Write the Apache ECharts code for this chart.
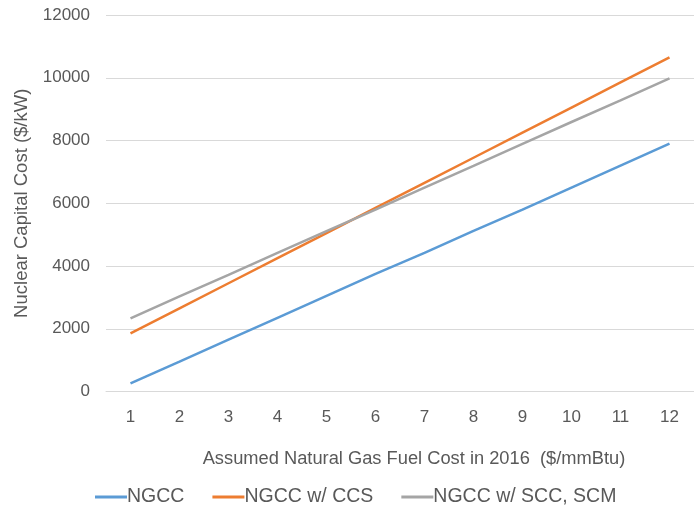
<!DOCTYPE html>
<html><head><meta charset="utf-8">
<script src="https://cdn.jsdelivr.net/npm/echarts@6/dist/echarts.min.js"></script>
<style>html,body{margin:0;padding:0;background:#fff}#c{width:694px;height:510px}</style>
</head><body><div id="c"></div>
<script>
const categories = ['1','2','3','4','5','6','7','8','9','10','11','12'];
const ngcc = [260, 950, 1650, 2350, 3050, 3750, 4420, 5120, 5800, 6500, 7200, 7900];
const ngccCCS = [1850, 2650, 3450, 4250, 5050, 5850, 6650, 7450, 8250, 9050, 9850, 10650];
const ngccSCC = [2330, 3030, 3720, 4420, 5110, 5800, 6500, 7190, 7890, 8590, 9280, 9980];
const seriesNames = ['NGCC', 'NGCC w/ CCS', 'NGCC w/ SCC, SCM'];
const colors = ['#5B9BD5', '#ED7D31', '#A5A5A5'];
const font = 'Liberation Sans, Arial, sans-serif';
const chart = echarts.init(document.getElementById('c'));
const mk = (name, data, color) => ({
  name, type: 'line', data, symbol: 'none', smooth: false,
  lineStyle: { color, width: 2.5 }, itemStyle: { color }
});
chart.setOption({
  animation: false,
  color: colors,
  grid: { left: 106, width: 594, top: 15, height: 376.5, containLabel: false },
  legend: {
    top: 487, left: 95, padding: 0, itemGap: 28, itemWidth: 32, itemHeight: 3,
    icon: 'rect',
    textStyle: { color: '#595959', fontSize: 19.5, fontFamily: font, padding: [0,0,0,-5] },
    data: seriesNames
  },
  xAxis: {
    type: 'category', data: categories, boundaryGap: true,
    name: 'Assumed Natural Gas Fuel Cost in 2016  ($/mmBtu)',
    nameLocation: 'middle', nameGap: 58,
    nameTextStyle: { color: '#595959', fontSize: 18.3, fontFamily: font, verticalAlign: 'top', padding: [0,0,0,28] },
    axisLine: { show: true, lineStyle: { color: '#d9d9d9' } },
    axisTick: { show: false },
    axisLabel: { color: '#595959', fontSize: 17, fontFamily: font, margin: 17 }
  },
  yAxis: {
    type: 'value', min: 0, max: 12000, interval: 2000,
    name: 'Nuclear Capital Cost ($/kW)', nameLocation: 'middle', nameGap: 75,
    nameTextStyle: { color: '#595959', fontSize: 18.5, fontFamily: font },
    axisLine: { show: false }, axisTick: { show: false },
    axisLabel: { color: '#595959', fontSize: 17, fontFamily: font, margin: 16, formatter: v => String(v) },
    splitLine: { lineStyle: { color: '#d9d9d9', width: 1 } }
  },
  series: [mk(seriesNames[0], ngcc, colors[0]), mk(seriesNames[1], ngccCCS, colors[1]), mk(seriesNames[2], ngccSCC, colors[2])]
});
</script></body></html>
